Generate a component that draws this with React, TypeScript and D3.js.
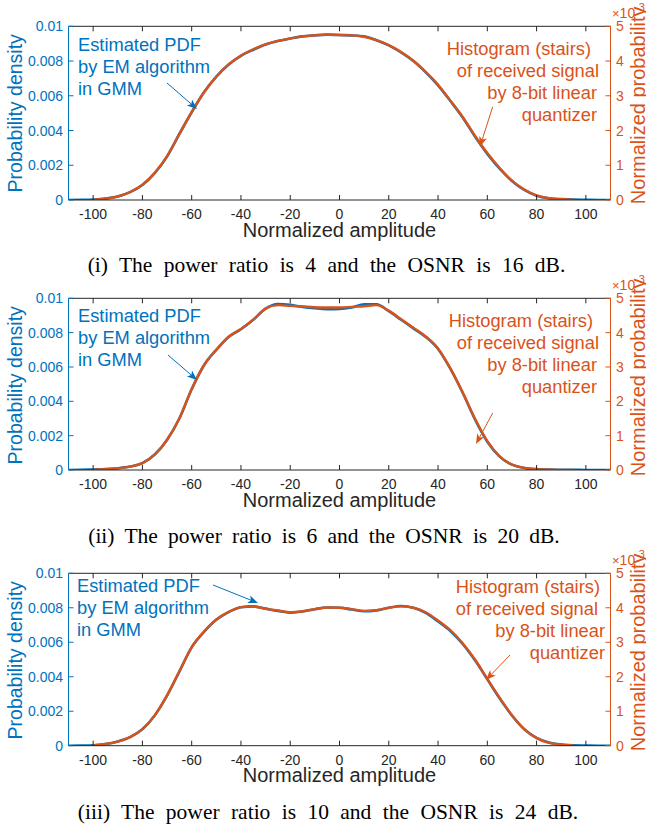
import React from "react";
import * as d3 from "d3";

// ---------- data ----------
const AMPLITUDE = [-110, -105, -100, -95, -90, -85, -80, -75, -70, -65, -60, -55, -50, -45, -40, -35, -30, -25, -20, -15, -10, -5, 0, 5, 10, 15, 20, 25, 30, 35, 40, 45, 50, 55, 60, 65, 70, 75, 80, 85, 90, 95, 100, 105, 110];

// Estimated PDF (x1e-3, left axis)
const PDF_I = [0, 0.01, 0.03, 0.08, 0.2, 0.45, 0.86, 1.55, 2.5, 3.8, 5.05, 6.2, 7.1, 7.8, 8.3, 8.65, 8.95, 9.15, 9.3, 9.42, 9.48, 9.52, 9.5, 9.48, 9.42, 9.2, 8.9, 8.5, 8.0, 7.35, 6.6, 5.7, 4.75, 3.65, 2.65, 1.8, 1.1, 0.58, 0.25, 0.1, 0.05, 0.02, 0.01, 0, 0];
const PDF_II = [0, 0.01, 0.03, 0.05, 0.1, 0.2, 0.4, 0.9, 1.75, 3.0, 4.7, 6.1, 7.0, 7.75, 8.2, 8.75, 9.4, 9.67, 9.62, 9.5, 9.42, 9.37, 9.38, 9.47, 9.65, 9.65, 9.25, 8.75, 8.25, 7.75, 7.05, 5.9, 4.5, 2.95, 1.65, 0.78, 0.31, 0.12, 0.05, 0.02, 0.01, 0.01, 0, 0, 0];
const PDF_III = [0, 0.01, 0.03, 0.1, 0.25, 0.5, 0.95, 1.75, 2.9, 4.3, 5.7, 6.6, 7.3, 7.75, 8.03, 8.08, 7.95, 7.82, 7.72, 7.78, 7.92, 8.02, 8.0, 7.9, 7.8, 7.85, 8.0, 8.1, 8.0, 7.7, 7.2, 6.65, 5.9, 4.95, 3.85, 2.75, 1.75, 0.95, 0.45, 0.18, 0.07, 0.02, 0.01, 0, 0];

// Histogram normalized probability (x1e-3, right axis)
const HIST_I = [0, 0, 0.01, 0.04, 0.1, 0.23, 0.44, 0.78, 1.26, 1.9, 2.53, 3.1, 3.55, 3.9, 4.16, 4.34, 4.48, 4.58, 4.65, 4.71, 4.74, 4.76, 4.75, 4.74, 4.7, 4.6, 4.46, 4.26, 4.01, 3.69, 3.32, 2.86, 2.39, 1.85, 1.35, 0.92, 0.56, 0.3, 0.13, 0.05, 0.02, 0.01, 0, 0, 0];
const HIST_II = [0, 0, 0.01, 0.02, 0.05, 0.1, 0.2, 0.45, 0.88, 1.5, 2.36, 3.05, 3.5, 3.88, 4.11, 4.38, 4.7, 4.8, 4.78, 4.76, 4.74, 4.73, 4.73, 4.75, 4.77, 4.8, 4.64, 4.39, 4.14, 3.89, 3.54, 2.96, 2.26, 1.49, 0.84, 0.4, 0.16, 0.06, 0.02, 0.01, 0, 0, 0, 0, 0];
const HIST_III = [0, 0, 0.01, 0.05, 0.12, 0.25, 0.48, 0.88, 1.46, 2.16, 2.86, 3.31, 3.66, 3.88, 4.02, 4.04, 3.97, 3.92, 3.87, 3.9, 3.96, 4.01, 4.0, 3.96, 3.91, 3.93, 4.0, 4.04, 4.0, 3.87, 3.63, 3.35, 2.97, 2.5, 1.94, 1.39, 0.88, 0.48, 0.22, 0.08, 0.03, 0.01, 0, 0, 0];

const X_TICKS = [-100, -80, -60, -40, -20, 0, 20, 40, 60, 80, 100];
const LEFT_TICKS = [0, 0.002, 0.004, 0.006, 0.008, 0.01];
const LEFT_TICK_LABELS = ["0", "0.002", "0.004", "0.006", "0.008", "0.01"];
const RIGHT_TICKS = [0, 1, 2, 3, 4, 5];

const CAPTIONS = [
  "(i) The power ratio is 4 and the OSNR is 16 dB.",
  "(ii) The power ratio is 6 and the OSNR is 20 dB.",
  "(iii) The power ratio is 10 and the OSNR is 24 dB.",
];
const LEFT_NOTE = ["Estimated PDF", "by EM algorithm", "in GMM"];
const RIGHT_NOTE = ["Histogram (stairs)", "of received signal", "by 8-bit linear", "quantizer"];
const X_LABEL = "Normalized amplitude";
const LEFT_LABEL = "Probability density";
const RIGHT_LABEL = "Normalized probability";

// ---------- layout ----------
const BLUE = "#0072BD";
const ORANGE = "#D95319";
const DARK = "#262626";
const SANS = "'Liberation Sans', Arial, Helvetica, sans-serif";
const SERIF = "'Liberation Serif', 'Times New Roman', serif";
const X0 = 68.5;
const X1 = 610.5;

const PANELS = [
  {
    pdf: PDF_I, hist: HIST_I, caption: CAPTIONS[0], top: 26.3, bottom: 200, capY: 272, capX: 326.5, capWS: 6,
    leftNote: { x: 78, y: 50.5 }, rightNote: { x: 597, y: 55, dx: [-6, 2, 0, 0] },
    blueArrow: [167, 83, 197, 109], orangeArrow: [492.7, 106.7, 480, 146.7],
  },
  {
    pdf: PDF_II, hist: HIST_II, caption: CAPTIONS[1], top: 298.3, bottom: 470, capY: 543, capX: 324, capWS: 4.9,
    leftNote: { x: 78, y: 321.5 }, rightNote: { x: 597, y: 327, dx: [-4, 2, 0, 0] },
    blueArrow: [168, 355, 197, 380], orangeArrow: [492.7, 413, 476, 444],
  },
  {
    pdf: PDF_III, hist: HIST_III, caption: CAPTIONS[2], top: 573.3, bottom: 745.7, capY: 819, capX: 328, capWS: 6,
    leftNote: { x: 77, y: 591.5 }, rightNote: { x: 605, y: 593, dx: [-5, -7, 0, 0] },
    blueArrow: [213, 585, 258, 603], orangeArrow: [510, 655, 486, 680],
  },
];

function Arrow({ c, color }: { c: number[]; color: string }) {
  const [x1, y1, x2, y2] = c;
  const ang = Math.atan2(y2 - y1, x2 - x1);
  const L = 10, W = 4, B = 7.5;
  const ux = Math.cos(ang), uy = Math.sin(ang);
  const px = -uy, py = ux;
  const p1 = [x2 - ux * L + px * W, y2 - uy * L + py * W];
  const p2 = [x2 - ux * L - px * W, y2 - uy * L - py * W];
  const pb = [x2 - ux * B, y2 - uy * B];
  return (
    <g>
      <line x1={x1} y1={y1} x2={pb[0]} y2={pb[1]} stroke={color} strokeWidth={1} />
      <path d={`M${x2},${y2}L${p1[0]},${p1[1]}L${pb[0]},${pb[1]}L${p2[0]},${p2[1]}Z`} fill={color} />
    </g>
  );
}

function Panel({ p, i }: { p: (typeof PANELS)[number]; i: number }) {
  const x = d3.scaleLinear().domain([-110, 110]).range([X0, X1]);
  const yL = d3.scaleLinear().domain([0, 0.01]).range([p.bottom, p.top]);
  const yR = d3.scaleLinear().domain([0, 5]).range([p.bottom, p.top]);
  const pdfLine = d3
    .line<number>()
    .x((_, k) => x(AMPLITUDE[k]))
    .y((v) => yL(v * 1e-3))
    .curve(d3.curveMonotoneX);
  const histLine = d3
    .line<number>()
    .x((_, k) => x(AMPLITUDE[k + 2]))
    .y((v) => yR(v))
    .curve(d3.curveMonotoneX);
  const clipId = `clip${i}`;
  const tl = 5;
  const midLeft = p.top + 87;
  const midRight = p.top + 79;
  return (
    <g>
      <defs>
        <clipPath id={clipId}>
          <rect x={X0} y={p.top} width={X1 - X0} height={p.bottom - p.top} />
        </clipPath>
      </defs>
      <g clipPath={`url(#${clipId})`}>
        <path d={pdfLine(p.pdf) || ""} fill="none" stroke={BLUE} strokeWidth={2.6} />
        <path d={histLine(p.hist.slice(2, 42)) || ""} fill="none" stroke={ORANGE} strokeWidth={2.4} />
      </g>
      <line x1={X0} x2={X1} y1={p.top} y2={p.top} stroke={DARK} strokeWidth={1} />
      <line x1={X0} x2={X1} y1={p.bottom} y2={p.bottom} stroke={DARK} strokeWidth={1} />
      {X_TICKS.map((t) => (
        <g key={t}>
          <line x1={x(t)} x2={x(t)} y1={p.bottom} y2={p.bottom - tl} stroke={DARK} strokeWidth={1} />
          <line x1={x(t)} x2={x(t)} y1={p.top} y2={p.top + tl} stroke={DARK} strokeWidth={1} />
          <text x={x(t)} y={p.bottom + 19} fontSize={14} fontFamily={SANS} fill={DARK} textAnchor="middle">
            {t}
          </text>
        </g>
      ))}
      <line x1={X0} x2={X0} y1={p.top} y2={p.bottom} stroke={BLUE} strokeWidth={1} />
      {LEFT_TICKS.map((t, k) => (
        <g key={t}>
          <line x1={X0} x2={X0 + tl} y1={yL(t)} y2={yL(t)} stroke={BLUE} strokeWidth={1} />
          <text x={63} y={yL(t) + 5} fontSize={14} fontFamily={SANS} fill={BLUE} textAnchor="end">
            {LEFT_TICK_LABELS[k]}
          </text>
        </g>
      ))}
      <line x1={X1} x2={X1} y1={p.top} y2={p.bottom} stroke={ORANGE} strokeWidth={1} />
      {RIGHT_TICKS.map((t) => (
        <g key={t}>
          <line x1={X1} x2={X1 - tl} y1={yR(t)} y2={yR(t)} stroke={ORANGE} strokeWidth={1} />
          <text x={616} y={yR(t) + 5} fontSize={14} fontFamily={SANS} fill={ORANGE}>
            {t}
          </text>
        </g>
      ))}
      <text x={612} y={p.top - 8} fontSize={14} fontFamily={SANS} fill={ORANGE}>
        <tspan fontSize={13}>×</tspan>
        <tspan>10</tspan>
        <tspan fontSize={11} dy={-7}>-3</tspan>
      </text>
      <text x={(X0 + X1) / 2} y={p.bottom + 36.5} fontSize={20} fontFamily={SANS} fill={DARK} textAnchor="middle">
        {X_LABEL}
      </text>
      <text
        transform={`translate(22,${midLeft}) rotate(-90)`}
        fontSize={19.5}
        fontFamily={SANS}
        fill={BLUE}
        textAnchor="middle"
      >
        {LEFT_LABEL}
      </text>
      <text
        transform={`translate(645,${midRight}) rotate(-90)`}
        fontSize={20}
        fontFamily={SANS}
        fill={ORANGE}
        textAnchor="middle"
      >
        {RIGHT_LABEL}
      </text>
      {LEFT_NOTE.map((s, k) => (
        <text key={s} x={p.leftNote.x} y={p.leftNote.y + k * 22.3} fontSize={18.3} fontFamily={SANS} fill={BLUE}>
          {s}
        </text>
      ))}
      {RIGHT_NOTE.map((s, k) => (
        <text
          key={s}
          x={p.rightNote.x + p.rightNote.dx[k]}
          y={p.rightNote.y + k * 22}
          fontSize={18.3}
          fontFamily={SANS}
          fill={ORANGE}
          textAnchor="end"
        >
          {s}
        </text>
      ))}
      <Arrow c={p.blueArrow} color={BLUE} />
      <Arrow c={p.orangeArrow} color={ORANGE} />
      <text x={p.capX} y={p.capY} fontSize={21.5} fontFamily={SERIF} fill="#000" textAnchor="middle" wordSpacing={p.capWS}>
        {p.caption}
      </text>
    </g>
  );
}

export default function App() {
  return (
    <svg width={646} height={828} style={{ position: "absolute", left: 0, top: 0, background: "#fff" }}>
      <rect width={646} height={828} fill="#fff" />
      {PANELS.map((p, i) => (
        <Panel key={i} p={p} i={i} />
      ))}
    </svg>
  );
}
